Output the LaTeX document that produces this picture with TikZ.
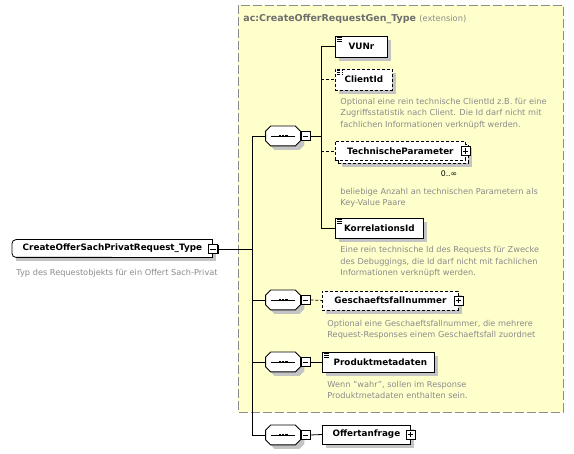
\documentclass[tikz,border=0pt]{standalone}
\usepackage{fontspec}
\setmainfont{DejaVu Sans}
\usetikzlibrary{shadows}

\definecolor{grpfill}{HTML}{FFFFCC}
\definecolor{grpline}{HTML}{8C8C8C}
\definecolor{doctext}{HTML}{8A8A8A}
\definecolor{hdrtext}{HTML}{6E6E6E}
\definecolor{shadowgray}{HTML}{C4C4C4}

\tikzset{
  elem/.style={draw, fill=white, line width=0.8pt, anchor=west,
    font=\fontsize{8.8}{10}\selectfont\bfseries, inner sep=0pt,
    drop shadow={shadow xshift=4pt, shadow yshift=-4pt, fill=shadowgray, opacity=1}},
  optional/.style={dash pattern=on 3pt off 2pt},
  multi/.style={
    drop shadow={shadow xshift=7pt, shadow yshift=-7pt, fill=shadowgray, opacity=1},
    copy shadow={shadow xshift=3pt, shadow yshift=-3pt}},
  simple/.style={path picture={
    \foreach \k in {1.4,3.2,5.0}
      \draw[line width=0.6pt] ([xshift=1.5pt,yshift=-\k pt]path picture bounding box.north west) -- ++(5.5pt,0pt);}},
  seq/.style={minimum width=34pt, minimum height=19pt, inner sep=0pt,
    append after command={\pgfextra{
      \draw[fill=white, line width=0.8pt,
            drop shadow={shadow xshift=4pt, shadow yshift=-4pt, fill=shadowgray, opacity=1}]
        ([xshift=5pt]\tikzlastnode.north west) -- ([xshift=-5pt]\tikzlastnode.north east)
        -- ([yshift=-5pt]\tikzlastnode.north east) -- ([yshift=5pt]\tikzlastnode.south east)
        -- ([xshift=-5pt]\tikzlastnode.south east) -- ([xshift=5pt]\tikzlastnode.south west)
        -- ([yshift=5pt]\tikzlastnode.south west) -- ([yshift=-5pt]\tikzlastnode.north west) -- cycle;
      \draw[line width=0.8pt] ([xshift=-12pt]\tikzlastnode.center) -- ([xshift=12pt]\tikzlastnode.center);
      \foreach \d in {-3.2,0,3.2}
        \fill ([xshift=\d pt]\tikzlastnode.center) +(-1.3pt,-1.3pt) rectangle +(1.3pt,1.3pt);}}},
  expander/.style={draw, fill=white, line width=0.8pt, minimum size=9pt, inner sep=0pt,
    drop shadow={shadow xshift=1pt, shadow yshift=-1pt, fill=black, opacity=1}},
  minusbox/.style={expander, path picture={
    \draw ([xshift=-2.6pt]path picture bounding box.center) -- ([xshift=2.6pt]path picture bounding box.center);}},
  plusbox/.style={expander, path picture={
    \draw ([xshift=-2.6pt]path picture bounding box.center) -- ([xshift=2.6pt]path picture bounding box.center);
    \draw ([yshift=-2.6pt]path picture bounding box.center) -- ([yshift=2.6pt]path picture bounding box.center);}},
  doc/.style={font=\fontsize{8.2}{11.5}\selectfont, text=doctext, inner sep=0pt, align=left, anchor=north west},
  card/.style={font=\fontsize{7.8}{9}\selectfont, inner sep=0pt}
}

\begin{document}
\begin{tikzpicture}[x=1pt, y=-1pt, line width=0.8pt]
    \useasboundingbox (0,0) rectangle (574,454);

    % extension of the base type
    \draw[grpline, fill=grpfill, dash pattern=on 9pt off 3pt] (238,5) rectangle (563,412);
    \node[anchor=base west, inner sep=0pt] (ext) at (243,21.5)
        {\textcolor{hdrtext}{\fontsize{9.5}{11}\selectfont\bfseries ac:CreateOfferRequestGen\_Type}
         \textcolor{doctext}{\fontsize{8.3}{10}\selectfont(extension)}};

    % the type itself
    \node[elem, draw=none, minimum width=200pt, minimum height=17pt] (type) at (12,248.5)
        {CreateOfferSachPrivatRequest\_Type\hspace{10pt}};
    \draw[rounded corners=4pt] (type.south) -| (type.west) |- (type.north);
    \draw (type.north) -| (type.south east) -- (type.south);
    \node[minusbox] (typem) at (213,249) {};
    \node[doc] (typedoc) at (16,268.5) {Typ des Requestobjekts für ein Offert Sach-Privat};

    \coordinate (trunk) at (252,249);

    % sequences
    \node[seq] (q1) at (283,136) {};
    \node[seq] (q2) at (283,300) {};
    \node[seq] (q3) at (283,362) {};
    \node[seq] (q4) at (283,435) {};
    \node[minusbox] (m1) at (305.5,136) {};
    \node[minusbox] (m2) at (305.5,300) {};
    \node[minusbox] (m3) at (305.5,362) {};
    \node[minusbox] (m4) at (305.5,435) {};

    % first sequence
    \node[elem, simple, minimum width=52pt, minimum height=21pt] (vunr) at (335,46.5) {VUNr};
    \node[elem, simple, optional, minimum width=57pt, minimum height=21pt] (cid) at (335,79.5) {ClientId};
    \node[doc] (ciddoc) at (340,97.5) {Optional eine rein technische ClientId z.B. für eine\\
        Zugriffsstatistik nach Client. Die Id darf nicht mit\\fachlichen Informationen verknüpft werden.};
    \node[elem, optional, multi, minimum width=130pt, minimum height=19pt] (tp) at (335,151)
        {TechnischeParameter};
    \node[plusbox] (tpp) at (tp.east) {};
    \node[card] (tpcard) at (449,174) {0..∞};
    \node[doc] (tpdoc) at (340,187.5) {beliebige Anzahl an technischen Parametern als\\Key-Value Paare};
    \node[elem, simple, minimum width=88pt, minimum height=20pt] (kor) at (335,228) {KorrelationsId};
    \node[doc] (kordoc) at (340,246) {Eine rein technische Id des Requests für Zwecke\\
        des Debuggings, die Id darf nicht mit fachlichen\\Informationen verknüpft werden.};

    % remaining sequences
    \node[elem, optional, minimum width=136pt, minimum height=19pt] (gfn) at (322,300.5)
        {Geschaeftsfallnummer\hspace{4pt}};
    \node[plusbox] (gfnp) at (gfn.east) {};
    \node[doc] (gfndoc) at (327,319.5) {Optional eine Geschaeftsfallnummer, die mehrere\\
        Request-Responses einem Geschaeftsfall zuordnet};
    \node[elem, simple, minimum width=112pt, minimum height=20pt] (pmd) at (322,362) {\hspace{4pt}Produktmetadaten};
    \node[doc] (pmddoc) at (327,380.5) {Wenn "wahr", sollen im Response\\Produktmetadaten enthalten sein.};
    \node[elem, minimum width=88pt, minimum height=19pt] (offer) at (322,434.5) {Offertanfrage};
    \node[plusbox] (offerp) at (offer.east) {};

    % connectors
    \draw (typem.east) -- (trunk);
    \draw (trunk |- q1) -- (trunk |- q4);
    \draw (trunk |- q1) -- (q1.west);
    \draw (trunk |- q2) -- (q2.west);
    \draw (trunk |- q3) -- (q3.west);
    \draw (trunk |- q4) -- (q4.west);

    \coordinate (j1) at (321,136);
    \draw (m1.east) -- (j1);
    \draw (j1 |- vunr.west) -- (j1 |- kor.west);
    \draw (j1 |- vunr.west) -- (vunr.west);
    \draw[optional] (j1 |- cid.west) -- (cid.west);
    \draw[optional] (j1 |- tp.west) -- (tp.west);
    \draw (j1 |- kor.west) -- (kor.west);

    \draw[optional] (m2.east) -- (gfn.west);
    \draw (m3.east) -- (pmd.west);
    \draw (m4.east) -- (offer.west);
\end{tikzpicture}
\end{document}
